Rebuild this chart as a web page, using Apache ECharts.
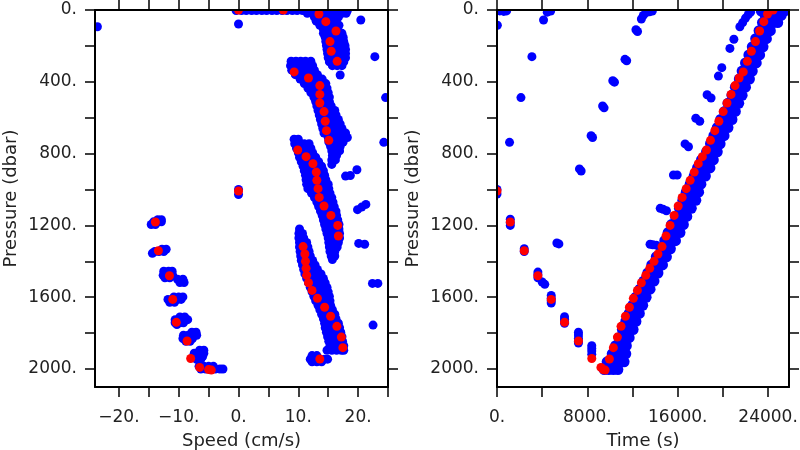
<!DOCTYPE html>
<html>
<head>
<meta charset="utf-8">
<script src="https://cdn.jsdelivr.net/npm/echarts@6.0.0/dist/echarts.min.js"></script>
<style>html,body{margin:0;padding:0;background:#fff;}#c{width:800px;height:450px;}</style>
</head>
<body>
<div id="c"></div>
<script>
// ---- Axis ticks / labels ----
const speedTicks = [-20, -15, -10, -5, 0, 5, 10, 15, 20, 25];
const speedLabels = [-20, -10, 0, 10, 20];
const timeTicks = [0, 4000, 8000, 12000, 16000, 20000, 24000];
const timeLabels = [0, 8000, 16000, 24000];
const pressureTicks = [0, 200, 400, 600, 800, 1000, 1200, 1400, 1600, 1800, 2000];
const pressureLabels = [0, 400, 800, 1200, 1600, 2000];

// ---- Red (binned) profile: pressure, speed, time ----
const redPressure = [1008, 1181, 1341, 1480, 1612, 1740, 1844, 1941, 1991, 2003, 2006,
  1944, 1881, 1822, 1762, 1706, 1656, 1606, 1562, 1519, 1478,
  1439, 1400, 1359, 1318, 1259, 1200, 1144, 1092, 1044, 995,
  949, 903, 856, 817, 780, 726, 672, 620, 566, 518,
  470, 421, 379, 345, 286, 230, 176, 117, 65, 22, 0, 0];
const redSpeed = [0, -13.9, -13.4, -11.55, -11.0, -10.4, -8.6, -8.0, -6.5, -5.0, -4.55,
  13.6, 17.45, 17.2, 16.45, 15.4, 14.4, 13.2, 12.3, 11.7, 11.4,
  11.3, 11.2, 11.1, 10.8, 16.7, 16.6, 15.45, 14.3, 13.5, 13.3,
  13.1, 13.0, 12.45, 11.3, 9.9, 15.1, 14.7, 14.5, 14.3, 13.6,
  13.6, 13.6, 11.7, 9.3, 16.5, 15.5, 15.3, 16.3, 14.6, 13.45, 7.5, 0];
const redTime = [0, 1175, 2410, 3620, 4800, 5980, 7210, 8390, 9200, 9400, 9570,
  9950, 10300, 10660, 10980, 11370, 11720, 12070, 12430, 12780, 13170,
  13520, 13900, 14250, 14610, 14960, 15320, 15680, 16040, 16390, 16750,
  17100, 17460, 17820, 18180, 18540, 18900, 19280, 19640, 20020, 20360,
  20720, 21070, 21430, 21800, 22160, 22520, 22880, 23250, 23620, 23950, 24200, 24440];

// ---- Blue samples, speed panel: rows of [pressure, speed, speed, ...] ----
const blueSpeedRows = [
  [3, -0.4, 0.5, 1.3, 2.2, 3, 3.9, 4.7, 5.6, 6.4, 7.3, 8.1, 9, 9.8, 10.7, 11.5, 12.4, 13.2, 14.1, 14.9, 15.8, 16.6, 17.5, 18.2],
  [18, 11.5, 12.3, 13.1, 14, 14.8, 15.6, 16.4, 17.3, 18],
  [40, 12.7, 13.5, 14.3, 15.1, 15.9, 16.7],
  [62, 13, 13.8, 14.6, 15.4, 16.2],
  [85, 13.6, 14.4, 15.2, 16, 16.8],
  [108, 14.2, 15, 15.8, 16.6],
  [130, 14.2, 15, 15.8, 16.6, 17.3],
  [152, 14.5, 15.3, 16.1, 16.9, 17.5],
  [175, 14.6, 15.4, 16.2, 17, 17.6],
  [198, 14.7, 15.5, 16.3, 17.1, 17.8],
  [220, 14.8, 15.6, 16.4, 17.2, 17.9],
  [243, 14.9, 15.7, 16.5, 17.3, 17.9],
  [266, 15, 15.8, 16.6, 17.4, 17.9],
  [289, 15.2, 16, 16.8, 17.6],
  [310, 15.7, 16.5, 17.3],
  [362, 17],
  [285, 8.8, 9.6, 10.4, 11.2, 12.1],
  [310, 8.7, 9.5, 10.3, 11.1, 11.9, 12.4],
  [335, 8.9, 9.7, 10.5, 11.3, 12.1, 12.7],
  [360, 9.5, 10.3, 11.1, 11.9, 12.7, 13.2],
  [385, 10.3, 11.1, 11.9, 12.7, 13.5, 14],
  [410, 11, 11.8, 12.6, 13.4, 14.2, 14.6],
  [435, 11.6, 12.4, 13.2, 14, 14.8],
  [460, 12.1, 12.9, 13.7, 14.5, 15],
  [485, 12.6, 13.4, 14.2, 15, 15.2],
  [510, 12.9, 13.7, 14.5, 15.2],
  [535, 13.1, 13.9, 14.7, 15.5],
  [560, 13.3, 14.1, 14.9, 15.7, 16.1],
  [585, 13.5, 14.3, 15.1, 15.9, 16.3],
  [610, 13.7, 14.5, 15.3, 16.1, 16.7],
  [635, 13.9, 14.7, 15.5, 16.3, 17],
  [660, 14.1, 14.9, 15.7, 16.5, 17.3],
  [685, 14.3, 15.1, 15.9, 16.7, 17.5, 17.9],
  [710, 15, 15.8, 16.6, 17.4, 18.2],
  [735, 15.1, 15.9, 16.7, 17.5],
  [760, 15.4, 16.2, 17],
  [785, 15.6, 16.4, 16.9],
  [810, 15.7, 16.4],
  [835, 15.6, 16.2],
  [860, 15.6],
  [720, 9.3, 10],
  [745, 9.4, 10.2, 11, 11.8],
  [770, 9.7, 10.5, 11.3, 12.1],
  [795, 10, 10.8, 11.6, 12.4],
  [820, 10.2, 11, 11.8, 12.6, 12.9],
  [845, 10.5, 11.3, 12.1, 12.9, 13.4],
  [870, 10.8, 11.6, 12.4, 13.2, 13.9],
  [895, 11, 11.8, 12.6, 13.4, 14.2],
  [920, 11.2, 12, 12.8, 13.6, 14.4],
  [945, 11.3, 12.1, 12.9, 13.7, 14.6],
  [970, 11.4, 12.2, 13, 13.8, 14.7, 15],
  [995, 11.6, 12.4, 13.2, 14, 14.8, 15.1],
  [1020, 12.2, 13, 13.8, 14.6, 15.3],
  [1045, 12.7, 13.5, 14.3, 15.1, 15.6],
  [1070, 13.1, 13.9, 14.7, 15.5, 15.8],
  [1095, 13.4, 14.2, 15, 15.8, 16],
  [1120, 13.7, 14.5, 15.3, 16.1, 16.3],
  [1145, 14, 14.8, 15.6, 16.4],
  [1170, 14.2, 15, 15.8, 16.6],
  [1195, 14.4, 15.2, 16, 16.8],
  [1220, 14.6, 15.4, 16.2, 16.8],
  [1245, 14.8, 15.6, 16.4, 16.9],
  [1270, 15, 15.8, 16.6, 16.9],
  [1295, 15.1, 15.9, 16.7],
  [1320, 15.2, 16, 16.5],
  [1345, 15.3, 16.1],
  [1370, 15.5, 16.1],
  [1390, 15.7],
  [1220, 10.2],
  [1245, 10.1, 10.7],
  [1270, 10.1, 10.9],
  [1295, 10.2, 11, 11.4],
  [1320, 10.2, 11, 11.6],
  [1345, 10.3, 11.1, 11.8],
  [1370, 10.4, 11.2, 12],
  [1395, 10.5, 11.3, 12.1, 12.4],
  [1420, 10.7, 11.5, 12.3, 12.8],
  [1445, 10.9, 11.7, 12.5, 13.2],
  [1470, 11.1, 11.9, 12.7, 13.5, 13.8],
  [1495, 11.4, 12.2, 13, 13.8, 14.2],
  [1520, 11.7, 12.5, 13.3, 14.1, 14.5],
  [1545, 12, 12.8, 13.6, 14.4, 14.8],
  [1570, 12.3, 13.1, 13.9, 14.7, 15],
  [1595, 12.6, 13.4, 14.2, 15, 15.2],
  [1620, 12.9, 13.7, 14.5, 15.3],
  [1645, 13.3, 14.1, 14.9, 15.4],
  [1670, 13.6, 14.4, 15.2, 15.7],
  [1695, 13.9, 14.7, 15.5, 16.1],
  [1720, 14.2, 15, 15.8, 16.3],
  [1745, 14.4, 15.2, 16, 16.7],
  [1770, 14.5, 15.3, 16.1, 16.9],
  [1795, 14.7, 15.5, 16.3, 17.1],
  [1820, 14.9, 15.7, 16.5, 17.3],
  [1845, 15.1, 15.9, 16.7, 17.4],
  [1870, 15.3, 16.1, 16.9, 17.6],
  [1895, 14.8, 15.6, 16.4, 17.2, 17.6],
  [1925, 12.3, 13.1],
  [1945, 12, 12.8, 13.6, 14.4, 14.9],
  [1960, 12.3, 13.1, 13.9],
  [1195, -14.6, -13.9],
  [1180, -14.2, -13.4, -12.9],
  [1168, -13.5, -12.9],
  [1333, -12.8, -12.1],
  [1345, -14, -13.3, -12.5],
  [1355, -14.4],
  [1455, -12.5, -11.7, -11.1],
  [1478, -12.6, -11.8, -11],
  [1492, -12.3, -11.5],
  [1500, -10.2, -9.3],
  [1518, -9.8, -9.1],
  [1598, -10.8, -10, -9.3],
  [1612, -11.8, -11, -10.2, -9.6],
  [1628, -11.5, -10.7],
  [1710, -9.8, -9],
  [1725, -10.6, -9.8, -9, -8.5],
  [1742, -10.6, -9.8, -9.2],
  [1752, -10.3],
  [1795, -7.8, -7.1],
  [1812, -9.2, -8.4, -7.6, -7],
  [1830, -9.3, -8.5, -7.7],
  [1845, -8.8, -8.1],
  [1895, -6.5, -5.8],
  [1912, -7.4, -6.6, -5.8],
  [1930, -7.5, -6.7, -6],
  [1946, -7, -6.3],
  [1985, -6.6, -5.8, -5, -4.2],
  [2000, -6.3, -5.5, -4.7, -3.9, -3.1, -2.6]
];
// isolated speed samples: [speed, pressure]
const blueSpeedSingles = [
  [-23.6, 93], [0, 78], [20.45, 56], [22.8, 260], [24.6, 488], [24.3, 737],
  [0, 1000], [0, 1028], [17.9, 925], [18.7, 922], [19.8, 890],
  [19.9, 1112], [20.6, 1098], [21.3, 1083], [20.1, 1300], [21.1, 1305],
  [22.4, 1523], [23.3, 1523], [22.5, 1755]
];

// ---- Blue samples, time panel: rows of [pressure, time, time, ...] ----
const blueTimeRows = [
  [2003, 9500, 9900, 10300, 10700],
  [1960, 9750, 10200, 10700, 11250],
  [1915, 10200, 10650, 11100, 11400],
  [1870, 10500, 10950, 11450],
  [1825, 10800, 11250, 11700],
  [1780, 11100, 11550, 12050],
  [1735, 11400, 11850, 12300],
  [1690, 11700, 12150, 12600],
  [1645, 12000, 12450, 12900],
  [1600, 12300, 12750, 13200],
  [1555, 12650, 13100, 13550],
  [1510, 13000, 13450, 13900],
  [1465, 13350, 13800, 14250],
  [1420, 13700, 14150, 14650],
  [1375, 14100, 14550, 15000],
  [1330, 14550, 14950, 15350],
  [1285, 14850, 15300, 15800],
  [1240, 15150, 15600, 16200],
  [1195, 15450, 15950, 16500],
  [1150, 15800, 16250, 16800],
  [1105, 16150, 16600, 17200],
  [1060, 16450, 16950, 17600],
  [1015, 16750, 17250, 17850],
  [970, 17100, 17550, 18050],
  [925, 17450, 17900, 18450],
  [880, 17750, 18250, 18850],
  [835, 18100, 18550, 19150],
  [790, 18550, 19000, 19500],
  [745, 18900, 19350, 19750],
  [700, 19200, 19650, 20100],
  [655, 19500, 19950, 20450],
  [610, 19800, 20250, 20800],
  [565, 20150, 20600, 21100],
  [520, 20450, 20950, 21400],
  [475, 20800, 21250, 21700],
  [430, 21100, 21550, 22000],
  [385, 21450, 21900, 22350],
  [340, 21700, 22150, 22600],
  [295, 22000, 22450, 22950],
  [250, 22300, 22750, 23250],
  [205, 22600, 23050, 23550],
  [160, 22900, 23350, 23850],
  [115, 23200, 23650, 24200],
  [70, 23500, 23950, 24450, 24850],
  [30, 23750, 24200, 24700, 25150],
  [6, 23400, 23800, 24250, 24700, 25100, 25450]
];
// isolated time samples: [time, pressure]
const blueTimeSingles = [
  [250, 5], [600, 8], [850, 5], [30, 85],
  [4120, 56], [4450, 12], [4750, 6], [3090, 260], [2120, 488], [1110, 737],
  [7300, 885], [7450, 897], [8330, 700], [8460, 710], [9350, 535], [9480, 545],
  [10250, 394], [10400, 402], [11330, 275], [11480, 283], [12300, 110], [12440, 120],
  [12780, 50], [12950, 30], [13200, 15], [13500, 10], [13750, 6],
  [0, 1000], [0, 1025],
  [1175, 1165], [1175, 1185], [1175, 1200],
  [2410, 1330], [2410, 1345],
  [3620, 1460], [3620, 1475], [3620, 1492], [4000, 1515], [4230, 1528],
  [4800, 1590], [4800, 1605], [4800, 1620], [4800, 1632],
  [5980, 1708], [5980, 1722], [5980, 1735], [5980, 1745],
  [7210, 1795], [7210, 1810], [7210, 1828], [7210, 1845], [7210, 1855],
  [8390, 1870], [8390, 1885], [8390, 1900], [8390, 1918],
  [9300, 1995], [5300, 1298], [5480, 1303],
  [13550, 1305], [13800, 1308], [14100, 1310],
  [14450, 1105], [14700, 1110], [15000, 1118],
  [15620, 919], [15950, 919], [16650, 746], [16950, 762],
  [17600, 603], [17950, 620], [18600, 472], [18950, 490],
  [19600, 368], [19900, 321], [20620, 214], [20970, 163],
  [21500, 93], [21750, 70], [22000, 45], [22250, 25], [22450, 12]
];

// ---- build point lists ----
function rowsToPoints(rows) {
  const out = [];
  rows.forEach(r => { for (let i = 1; i < r.length; i++) out.push([r[i], r[0]]); });
  return out;
}
const redSpeedPts = redPressure.map((p, i) => [redSpeed[i], p]);
const redTimePts = redPressure.map((p, i) => [redTime[i], p]);
const blueSpeedPts = rowsToPoints(blueSpeedRows).concat(blueSpeedSingles);
const blueTimeBand = rowsToPoints(blueTimeRows);

const FONT = 'DejaVu Sans';
const fmt = v => (v < 0 ? '\u2212' + (-v) : String(v)) + '.';
const LINE = { color: '#000', width: 2 };
const TICK = { color: '#000', width: 1.5 };

function makeX(grid, pos, min, max, ticks, labels, name) {
  const a = {
    type: 'value', gridIndex: grid, position: pos, min: min, max: max, z: 10,
    axisLine: { show: true, onZero: false, lineStyle: LINE },
    axisTick: { show: true, length: 10, inside: false, customValues: ticks, lineStyle: TICK },
    axisLabel: { show: false },
    splitLine: { show: false }
  };
  if (labels) {
    a.axisLabel = { show: true, customValues: labels, formatter: fmt, margin: 22,
      fontFamily: FONT, fontSize: 17, color: '#222' };
    a.name = name;
    a.nameLocation = 'middle';
    a.nameGap = 45;
    a.nameTextStyle = { fontFamily: FONT, fontSize: 18, color: '#222' };
  }
  return a;
}
function makeY(grid, pos, labels) {
  const a = {
    type: 'value', gridIndex: grid, position: pos, min: 0, max: 2100, inverse: true, z: 10,
    axisLine: { show: true, onZero: false, lineStyle: LINE },
    axisTick: { show: true, length: 10, inside: false, customValues: pressureTicks, lineStyle: TICK },
    axisLabel: { show: false },
    splitLine: { show: false }
  };
  if (labels) {
    a.axisLabel = { show: true, customValues: labels, formatter: fmt, margin: 18,
      fontFamily: FONT, fontSize: 17, color: '#222' };
    a.name = 'Pressure (dbar)';
    a.nameLocation = 'middle';
    a.nameGap = 75;
    a.nameTextStyle = { fontFamily: FONT, fontSize: 18, color: '#222' };
  }
  return a;
}

const GL = { left: 95, top: 10, width: 293, height: 377, containLabel: false, outerBoundsMode: 'none' };
const GR = { left: 497, top: 10, width: 292, height: 377, containLabel: false, outerBoundsMode: 'none' };
function covers(g) {
  const W = '#fff';
  return [
    { type: 'rect', z: 5, silent: true, shape: { x: g.left - 12, y: 0, width: g.width + 24, height: g.top }, style: { fill: W } },
    { type: 'rect', z: 5, silent: true, shape: { x: g.left - 12, y: g.top, width: 12, height: g.height }, style: { fill: W } },
    { type: 'rect', z: 5, silent: true, shape: { x: g.left + g.width, y: g.top, width: 12, height: g.height }, style: { fill: W } },
    { type: 'rect', z: 5, silent: true, shape: { x: g.left - 12, y: g.top + g.height, width: g.width + 24, height: 12 }, style: { fill: W } }
  ];
}

const blueStyle = { color: '#0000ff', opacity: 1 };
const redStyle = { color: '#ff0000', opacity: 1 };

const option = {
  animation: false,
  backgroundColor: '#fff',
  grid: [GL, GR],
  xAxis: [
    makeX(0, 'bottom', -24, 25, speedTicks, speedLabels, 'Speed (cm/s)'),
    makeX(0, 'top', -24, 25, speedTicks, null, null),
    makeX(1, 'bottom', 0, 25850, timeTicks, timeLabels, 'Time (s)'),
    makeX(1, 'top', 0, 25850, timeTicks, null, null)
  ],
  yAxis: [
    makeY(0, 'left', pressureLabels),
    makeY(0, 'right', null),
    makeY(1, 'left', pressureLabels),
    makeY(1, 'right', null)
  ],
  graphic: { elements: covers(GL).concat(covers(GR)) },
  series: [
    { type: 'scatter', xAxisIndex: 0, yAxisIndex: 0, symbolSize: 9, itemStyle: blueStyle, silent: true, z: 2, data: blueSpeedPts },
    { type: 'scatter', xAxisIndex: 0, yAxisIndex: 0, symbolSize: 9, itemStyle: redStyle, silent: true, z: 3, data: redSpeedPts },
    { type: 'scatter', xAxisIndex: 2, yAxisIndex: 2, symbolSize: 11, itemStyle: blueStyle, silent: true, z: 2, data: blueTimeBand },
    { type: 'scatter', xAxisIndex: 2, yAxisIndex: 2, symbolSize: 9, itemStyle: blueStyle, silent: true, z: 2, data: blueTimeSingles },
    { type: 'scatter', xAxisIndex: 2, yAxisIndex: 2, symbolSize: 9, itemStyle: redStyle, silent: true, z: 3, data: redTimePts }
  ]
};
echarts.init(document.getElementById('c'), null, { renderer: 'canvas' }).setOption(option);
</script>
</body>
</html>
